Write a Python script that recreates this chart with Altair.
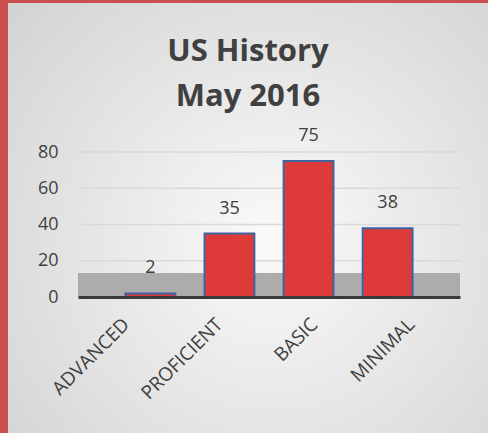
import altair as alt
import pandas as pd

categories = ["ADVANCED", "PROFICIENT", "BASIC", "MINIMAL"]
values = [2, 35, 75, 38]
y_ticks = [0, 20, 40, 60, 80]

df = pd.DataFrame({"level": categories, "count": values})

W, H = 382, 145
PL, PT, PR, PB = 78, 152, 28, 136

bg = alt.Chart(pd.DataFrame({"a": [0]})).mark_rect(
    fill=alt.RadialGradient(
        gradient="radial", x1=0.55, y1=0.55, r1=0.0, x2=0.55, y2=0.55, r2=0.75,
        stops=[alt.GradientStop(offset=0, color="#fafafa"),
               alt.GradientStop(offset=1, color="#d2d2d2")]
    )
).encode(
    x=alt.value(-PL + 8), x2=alt.value(W + PR),
    y=alt.value(-PT + 3), y2=alt.value(H + PB)
)

floor = alt.Chart(pd.DataFrame({"a": [0]})).mark_rect(color="#acacac").encode(
    x=alt.value(0), x2=alt.value(W), y=alt.value(H - 24), y2=alt.value(H)
)

label_shift = {
    "condition": [
        {"test": "datum.value == 'ADVANCED'", "value": -24},
        {"test": "datum.value == 'PROFICIENT'", "value": -10},
        {"test": "datum.value == 'BASIC'", "value": 6},
    ],
    "value": 24,
}

y_scale = alt.Scale(domain=[0, 80])
y_axis = alt.Axis(values=y_ticks, labelFontSize=18, labelColor="#404040",
                  labelFont="Open Sans", labelPadding=20, ticks=False,
                  domain=False, grid=False, zindex=1, labelOverlap=False)

base = alt.Chart(df).encode(
    x=alt.X("level:N", sort=categories, title=None,
            scale=alt.Scale(paddingInner=0.37, paddingOuter=0.6),
            axis=alt.Axis(labelAngle=-45, labelFontSize=19, labelColor="#404040",
                          labelFont="Open Sans", labelPadding=24, ticks=False,
                          domainColor="#3a3a3a", domainWidth=3, labelAlign="right",
                          labelBaseline="middle", zindex=1, labelOverlap=False,
                          labelOffset=label_shift)),
    y=alt.Y("count:Q", title=None, scale=y_scale, axis=y_axis),
)

grid = alt.Chart(pd.DataFrame({"v": y_ticks[1:]})).mark_rule(
    color="#d9d9d9", strokeWidth=1.5
).encode(y=alt.Y("v:Q", title=None, scale=y_scale, axis=y_axis))

bars = base.mark_bar(color="#de3a3a", stroke="#3b64a0", strokeWidth=2)
labels = base.mark_text(dy=-25, fontSize=18, color="#404040", font="Open Sans").encode(
    text="count:Q"
)

chart = alt.layer(bg, grid, floor, bars, labels).properties(
    width=W, height=H,
    padding={"left": PL, "top": PT, "right": PR, "bottom": PB},
    autosize=alt.AutoSizeParams(type="none"),
    background="#c9504f",
    title=alt.Title(["US History", "May 2016"], fontSize=31, font="Open Sans",
                    fontWeight="bold", color="#404040", lineHeight=45,
                    anchor="middle", dx=-21, offset=-110, zindex=1),
).configure_view(stroke=None)

chart.save("out.html", embed_options={"renderer": "svg", "actions": False})
